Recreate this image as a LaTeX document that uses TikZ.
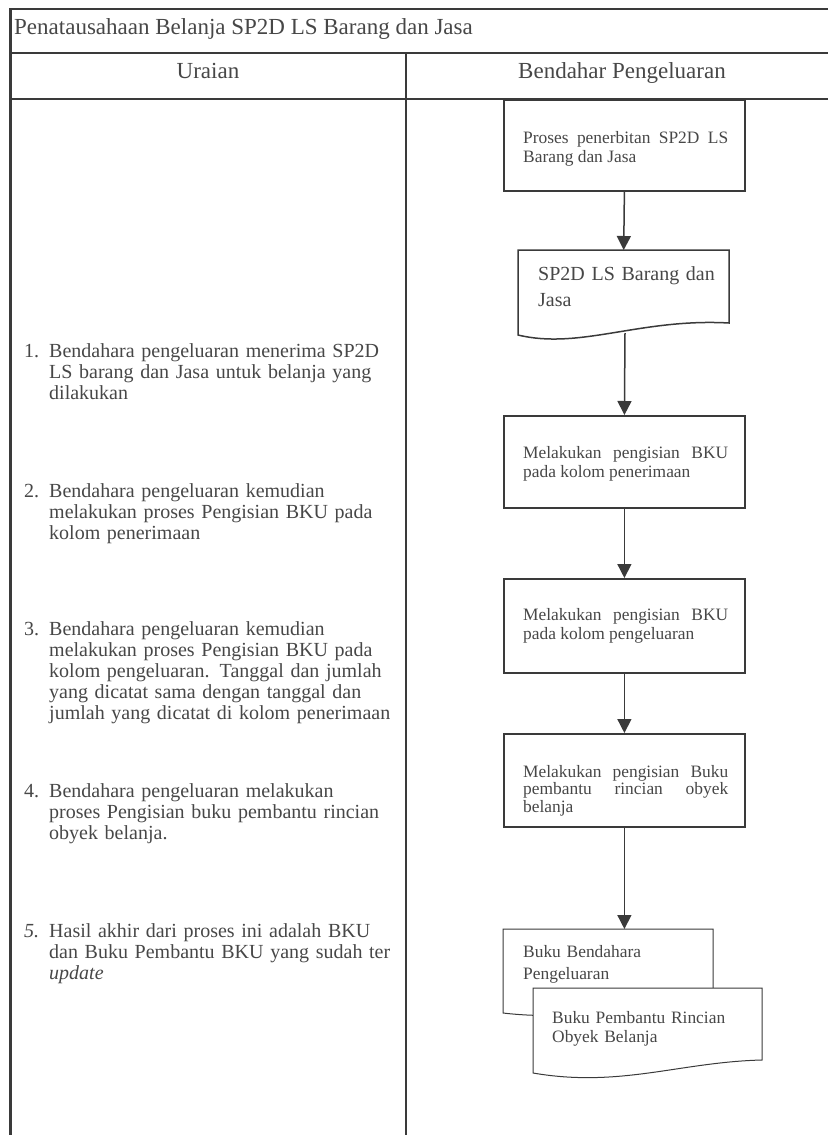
\documentclass[tikz,border=0pt]{standalone}
\usepackage{fontspec}
\setmainfont{Liberation Serif}
\usetikzlibrary{arrows.meta}
\definecolor{ink}{HTML}{3A3A3A}
\definecolor{txt}{HTML}{474747}
\begin{document}
\begin{tikzpicture}[x=1pt,y=-1pt,
  frame/.style={draw=ink,line width=2.2pt},
  procbox/.style={draw=ink,line width=1.8pt,inner sep=0pt,anchor=north west,minimum width=241pt},
  flow/.style={draw=ink,line width=1.5pt,-{Triangle[length=14pt,width=14pt]}},
  docline/.style={draw=ink,line width=1pt},
  nohyph/.style={execute at begin node={\hyphenpenalty=10000\exhyphenpenalty=10000}},
  boxtext/.style={nohyph,inner sep=0pt,anchor=base west,text=txt,font=\fontsize{17.4}{19.5}\selectfont,text width=205pt,align=justify},
  doctext/.style={nohyph,inner sep=0pt,anchor=base west,text=txt,text width=200pt,align=left},
  item/.style={nohyph,inner sep=0pt,anchor=base west,text=txt,font=\fontsize{20}{21}\selectfont,text width=350pt,align=left},
  num/.style={inner sep=0pt,anchor=base west,text=txt,font=\fontsize{20}{21}\selectfont},
  head/.style={inner sep=0pt,text=txt,font=\fontsize{23}{26}\selectfont}]
\useasboundingbox (0,0) rectangle (828,1135);

% table frame
\draw[frame] (10.5,9) -- (828,9);
\draw[frame] (10.5,53) -- (828,53);
\draw[frame] (10.5,99) -- (828,99);
\draw[frame] (10.5,8) -- (10.5,1135);
\draw[frame] (406,53) -- (406,1135);

% headings
\node[head,anchor=base west] (title) at (14,34) {Penatausahaan Belanja SP2D LS Barang dan Jasa};
\node[head,anchor=base] (hleft) at (208,78) {Uraian};
\node[head,anchor=base] (hright) at (622,78) {Bendahar Pengeluaran};

% process boxes
\node[procbox,minimum height=91pt] (p1) at (503,99) {};
\node[procbox,minimum height=92pt] (p2) at (503,415) {};
\node[procbox,minimum height=94pt] (p3) at (503,578) {};
\node[procbox,minimum height=93pt] (p4) at (503,733) {};

\node[boxtext] (p1t) at (523,143) {Proses penerbitan SP2D LS Barang dan Jasa};
\node[boxtext] (p2t) at (523,458) {Melakukan pengisian BKU pada kolom penerimaan};
\node[boxtext] (p3t) at (523,620) {Melakukan pengisian BKU pada kolom pengeluaran};
\node[boxtext,font=\fontsize{17.4}{17.5}\selectfont] (p4t) at (523,777) {Melakukan pengisian Buku pembantu rincian obyek belanja};

% document: SP2D
\node[inner sep=0pt,anchor=north west,minimum width=211pt,minimum height=85pt] (d1) at (518,250) {};
\draw[docline,line width=1.5pt] (d1.north west) -- (729,250) -- (729,323)
  .. controls (640,318) and (580,350) .. (518,335) -- cycle;
\coordinate (d1out) at (625,333);
\node[doctext,font=\fontsize{20}{26}\selectfont] (d1t) at (538,280) {SP2D LS Barang dan\\Jasa};

% documents: the two books
\node[inner sep=0pt,anchor=north west,minimum width=211pt,minimum height=84pt] (b1) at (503,929) {};
\draw[docline,fill=white] (503,929) -- (713,929) -- (713,1008)
  .. controls (640,1004) and (580,1022) .. (503,1013) -- cycle;
\node[doctext,font=\fontsize{17.4}{22}\selectfont] (b1t) at (523,957) {Buku Bendahara\\Pengeluaran};

\node[inner sep=0pt,anchor=north west,minimum width=229pt,minimum height=85pt] (b2) at (533,988) {};
\draw[docline,fill=white] (533,988) -- (762,988) -- (762,1060)
  .. controls (680,1062) and (620,1088) .. (533,1073) -- cycle;
\node[doctext,font=\fontsize{17.4}{19.5}\selectfont] (b2t) at (552,1023) {Buku Pembantu Rincian\\Obyek Belanja};

% flow
\draw[flow] (p1.south) -- (d1.north);
\draw[flow] (d1out) -- (p2.north);
\draw[flow] (p2.south) -- (p3.north);
\draw[flow] (p3.south) -- (p4.north);
\draw[flow] (p4.south) -- (b1.north -| p4.south);

% description column
\node[num] (n1) at (24,357) {1.};
\node[item] (i1) at (49,357) {Bendahara pengeluaran menerima SP2D\\LS barang dan Jasa untuk belanja yang\\dilakukan};
\node[num] (n2) at (24,497) {2.};
\node[item] (i2) at (49,497) {Bendahara pengeluaran kemudian\\melakukan proses Pengisian BKU pada\\kolom penerimaan};
\node[num] (n3) at (24,635) {3.};
\node[item] (i3) at (49,635) {Bendahara pengeluaran kemudian\\melakukan proses Pengisian BKU pada\\kolom pengeluaran. Tanggal dan jumlah\\yang dicatat sama dengan tanggal dan\\jumlah yang dicatat di kolom penerimaan};
\node[num] (n4) at (24,797) {4.};
\node[item] (i4) at (49,797) {Bendahara pengeluaran melakukan\\proses Pengisian buku pembantu rincian\\obyek belanja.};
\node[num] (n5) at (24,937) {\itshape 5.};
\node[item] (i5) at (49,937) {Hasil akhir dari proses ini adalah BKU\\dan Buku Pembantu BKU yang sudah ter\\\textit{update}};
\end{tikzpicture}
\end{document}
